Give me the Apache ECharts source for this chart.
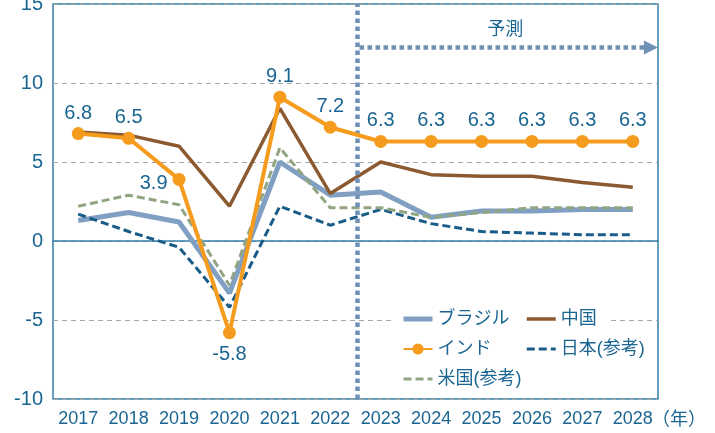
<!DOCTYPE html>
<html lang="ja">
<head>
    <meta charset="UTF-8">
    <title>実質GDP成長率</title>
    <script src="https://cdn.jsdelivr.net/npm/echarts@6/dist/echarts.min.js"></script>
    <style>
        html, body { margin: 0; padding: 0; background: #fff; }
        #main { width: 715px; height: 433px; }
    </style>
</head>
<body>
<div id="main"></div>
<script>
    // 年
    var years = ['2017', '2018', '2019', '2020', '2021', '2022', '2023', '2024', '2025', '2026', '2027', '2028'];
    var yTicks = [-10, -5, 0, 5, 10, 15];

    // 実質GDP成長率（%）
    var brazil = [1.3, 1.8, 1.2, -3.3, 5.0, 2.9, 3.1, 1.5, 1.9, 1.9, 2.0, 2.0];
    var china  = [6.9, 6.7, 6.0, 2.2, 8.4, 3.0, 5.0, 4.2, 4.1, 4.1, 3.7, 3.4];
    var india  = [6.8, 6.5, 3.9, -5.8, 9.1, 7.2, 6.3, 6.3, 6.3, 6.3, 6.3, 6.3];
    var japan  = [1.7, 0.6, -0.4, -4.2, 2.2, 1.0, 2.0, 1.1, 0.6, 0.5, 0.4, 0.4];
    var usa    = [2.2, 2.9, 2.3, -2.8, 5.9, 2.1, 2.1, 1.5, 1.8, 2.1, 2.1, 2.1];

    // 予測の区切り（年の区切り位置）と矢印の高さ
    var forecastStart = 6.04;
    var arrowY = 12.25;

    var TXT = '#1a6592';
    var FONT = 'Liberation Sans, Arial, Noto Sans CJK JP';

    var chart = echarts.init(document.getElementById('main'));

    var indiaData = india.map(function (v, i) {
        if (i === 2) {
            return { value: v, label: { position: 'left', distance: 5, offset: [0, 4] } };
        }
        if (i === 3) {
            return { value: v, label: { position: 'bottom', distance: 5 } };
        }
        return v;
    });

    // 凡例のアイコン（シンボルなしの線だけ）
    function lineItem(name, width) {
        return { name: name, itemStyle: { opacity: 0 }, lineStyle: { width: width } };
    }

    var legendText = { fontSize: 18, color: TXT, fontFamily: FONT };

    var option = {
        animation: false,
        textStyle: { fontFamily: FONT, color: TXT },
        grid: {
            left: 53, right: 57, top: 4, bottom: 34,
            outerBoundsMode: 'none',
            show: true, borderColor: '#3580a8', borderWidth: 1.5
        },
        legend: [{
            data: [lineItem('ブラジル', 5), 'インド', lineItem('米国(参考)', 3)],
            orient: 'vertical',
            left: 395, top: 305,
            padding: [5, 88, 5, 6],
            backgroundColor: '#fff',
            itemWidth: 29, itemHeight: 14, itemGap: 12,
            textStyle: legendText
        }, {
            data: [lineItem('中国', 3.5), lineItem('日本(参考)', 3)],
            orient: 'vertical',
            left: 520, top: 305,
            padding: [5, 5, 5, 5],
            itemWidth: 29, itemHeight: 14, itemGap: 12,
            textStyle: legendText
        }],
        xAxis: [{
            type: 'category',
            data: years,
            boundaryGap: true,
            axisLine: { show: false, onZero: false },
            axisTick: { show: false },
            axisLabel: { interval: 0, fontSize: 18, color: TXT, margin: 11, fontFamily: FONT }
        }, {
            type: 'category',
            data: years,
            boundaryGap: true,
            axisLine: { onZero: true, lineStyle: { color: '#3580a8', width: 1.5 } },
            axisTick: { inside: true, interval: 0, length: 5, lineStyle: { color: '#3580a8', width: 1.5 } },
            axisLabel: { show: false }
        }, {
            type: 'value',
            min: 0, max: years.length,
            show: false
        }],
        yAxis: {
            type: 'value',
            min: yTicks[0], max: yTicks[yTicks.length - 1], interval: 5,
            axisLine: { show: false },
            axisTick: { show: false },
            axisLabel: { fontSize: 20, color: TXT, margin: 10, fontFamily: FONT },
            splitLine: { lineStyle: { color: '#a6a6a6', type: [5, 4], width: 1 } }
        },
        series: [{
            name: 'ブラジル', type: 'line', data: brazil,
            symbol: 'none', z: 2,
            lineStyle: { color: '#809fc2', width: 5 },
            itemStyle: { color: '#809fc2' }
        }, {
            name: '日本(参考)', type: 'line', data: japan,
            symbol: 'none', z: 3,
            lineStyle: { color: '#1a5c88', width: 3, type: [8, 4] },
            itemStyle: { color: '#1a5c88' }
        }, {
            name: '米国(参考)', type: 'line', data: usa,
            symbol: 'none', z: 3,
            lineStyle: { color: '#91a582', width: 3, type: [8, 4] },
            itemStyle: { color: '#91a582' }
        }, {
            name: '中国', type: 'line', data: china,
            symbol: 'none', z: 4,
            lineStyle: { color: '#8c5a30', width: 3.5 },
            itemStyle: { color: '#8c5a30' }
        }, {
            name: 'インド', type: 'line', data: indiaData,
            symbol: 'circle', symbolSize: 13, z: 5,
            lineStyle: { color: '#f59b1e', width: 4 },
            itemStyle: { color: '#f59b1e' },
            label: {
                show: true, position: 'top', distance: 4,
                fontSize: 20, color: TXT, fontFamily: FONT
            }
        }, {
            name: '予測', type: 'line', data: [],
            xAxisIndex: 2, yAxisIndex: 0,
            markLine: {
                silent: true,
                animation: false,
                symbol: 'none',
                lineStyle: { color: '#6f91b6', width: 4.5, type: [4.5, 3.5] },
                label: { show: false },
                data: [
                    { xAxis: forecastStart },
                    [{
                        coord: [forecastStart + 0.04, arrowY],
                        symbol: 'none',
                        label: {
                            show: true, position: 'middle', distance: 8,
                            formatter: '予測', fontSize: 18, color: TXT, fontFamily: FONT
                        }
                    }, {
                        coord: [years.length - 0.14, arrowY],
                        symbol: 'triangle', symbolSize: [14, 14]
                    }]
                ]
            }
        }],
        graphic: [{
            type: 'text', left: 652, top: 409,
            style: { text: '（年）', fontSize: 18, fill: TXT, fontFamily: 'Noto Sans CJK JP' }
        }]
    };

    chart.setOption(option);
</script>
</body>
</html>
